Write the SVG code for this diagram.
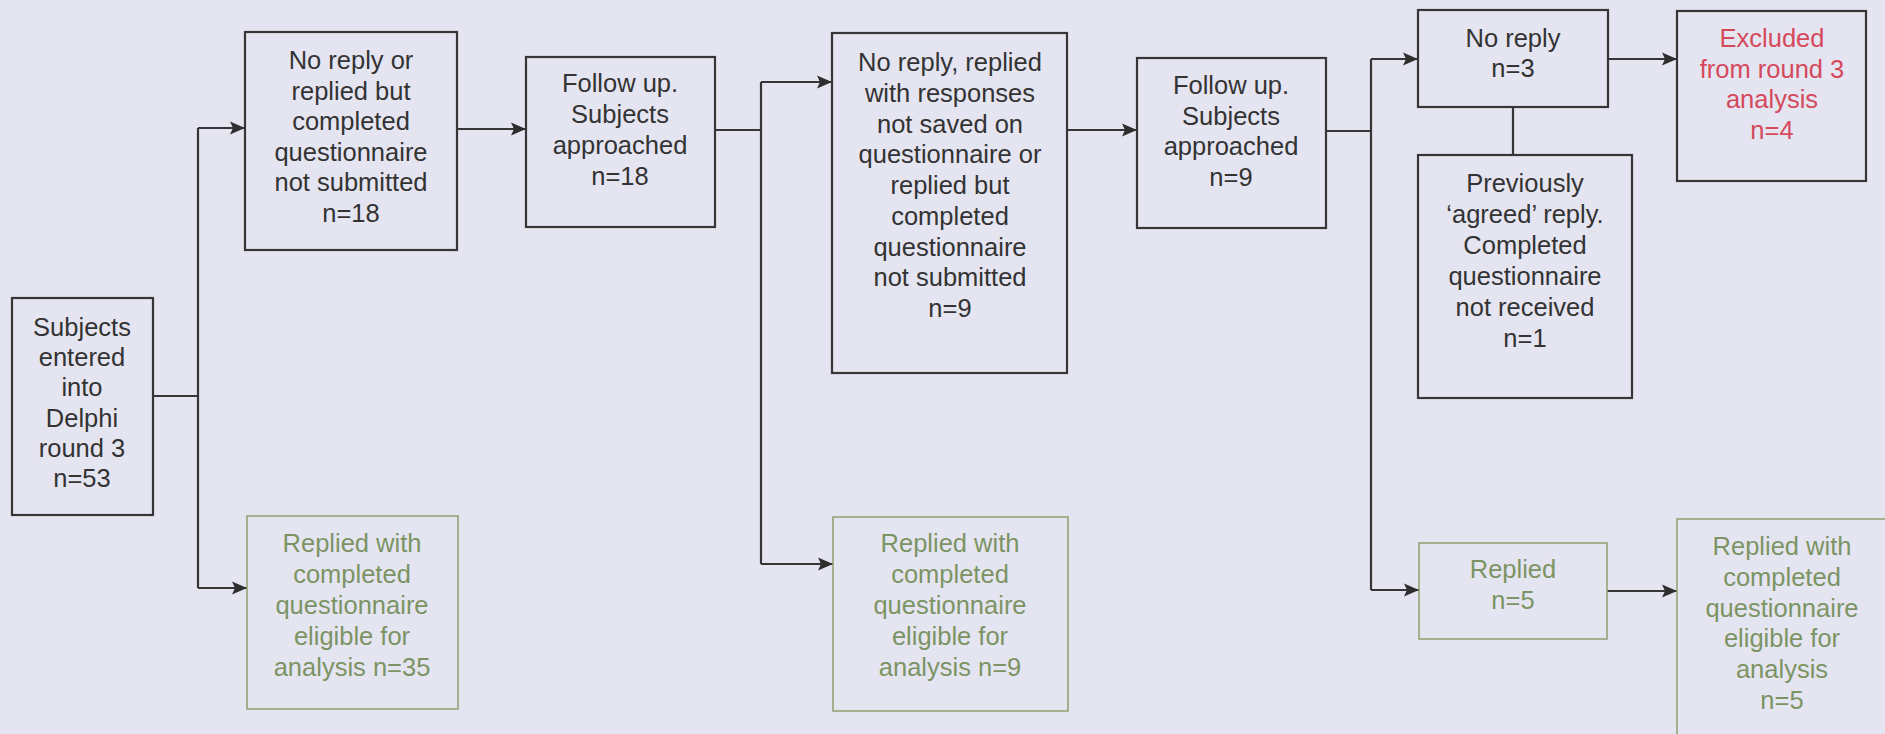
<svg xmlns="http://www.w3.org/2000/svg" width="1885" height="734" viewBox="0 0 1885 734">
  <style>
    .box { fill: none; stroke: #363636; stroke-width: 2.2; }
    .gbox { fill: none; stroke: #8e9e6e; stroke-width: 1.5; }
    .t { font-family: "Liberation Sans", Arial, sans-serif; font-size: 25.5px; text-anchor: middle; fill: #333333; }
    .g { fill: #7c9464; }
    .r { fill: #d5495c; }
    .wire { fill: none; stroke: #363636; stroke-width: 2.2; }
    .arrow { fill: none; stroke: #363636; stroke-width: 2.2; marker-end: url(#head); }
  </style>
  <defs>
    <marker id="head" markerUnits="userSpaceOnUse" markerWidth="16" markerHeight="14" refX="15" refY="7" orient="auto">
      <path d="M0,0.5 L15,7 L0,13.5 L3,7 z" fill="#2e2e2e"/>
    </marker>
  </defs>

  <rect x="0" y="0" width="1885" height="734" fill="#e5e5f1"/>

  <!-- connectors -->
  <g id="connectors">
    <path class="wire" d="M153,396 H198 M198,128 V588"/>
    <path class="arrow" d="M198,128 H245"/>
    <path class="arrow" d="M198,588 H247"/>
    <path class="arrow" d="M457,129 H526"/>
    <path class="wire" d="M715,130 H761 M761,82 V564"/>
    <path class="arrow" d="M761,82 H832"/>
    <path class="arrow" d="M761,564 H833"/>
    <path class="arrow" d="M1067,130 H1137"/>
    <path class="wire" d="M1326,131 H1371 M1371,59 V590"/>
    <path class="arrow" d="M1371,59 H1418"/>
    <path class="arrow" d="M1371,590 H1419"/>
    <path class="arrow" d="M1608,59 H1677"/>
    <path class="wire" d="M1513,107 V155"/>
    <path class="arrow" d="M1607,591 H1677"/>
  </g>

  <g id="entered">
    <rect class="box" x="12" y="298" width="141" height="217"/>
    <text class="t" x="82" y="336">Subjects<tspan x="82" dy="30.2">entered</tspan><tspan x="82" dy="30.2">into</tspan><tspan x="82" dy="30.2">Delphi</tspan><tspan x="82" dy="30.2">round 3</tspan><tspan x="82" dy="30.2">n=53</tspan></text>
  </g>

  <g id="noreply1">
    <rect class="box" x="245" y="32" width="212" height="218"/>
    <text class="t" x="351" y="69">No reply or<tspan x="351" dy="30.6">replied but</tspan><tspan x="351" dy="30.6">completed</tspan><tspan x="351" dy="30.6">questionnaire</tspan><tspan x="351" dy="30.6">not submitted</tspan><tspan x="351" dy="30.6">n=18</tspan></text>
  </g>

  <g id="replied1">
    <rect class="gbox" x="247" y="516" width="211" height="193"/>
    <text class="t g" x="352" y="552">Replied with<tspan x="352" dy="31">completed</tspan><tspan x="352" dy="31">questionnaire</tspan><tspan x="352" dy="31">eligible for</tspan><tspan x="352" dy="31">analysis n=35</tspan></text>
  </g>

  <g id="followup1">
    <rect class="box" x="526" y="57" width="189" height="170"/>
    <text class="t" x="620" y="92">Follow up.<tspan x="620" dy="31">Subjects</tspan><tspan x="620" dy="31">approached</tspan><tspan x="620" dy="31">n=18</tspan></text>
  </g>

  <g id="noreply2">
    <rect class="box" x="832" y="33" width="235" height="340"/>
    <text class="t" x="950" y="71">No reply, replied<tspan x="950" dy="30.75">with responses</tspan><tspan x="950" dy="30.75">not saved on</tspan><tspan x="950" dy="30.75">questionnaire or</tspan><tspan x="950" dy="30.75">replied but</tspan><tspan x="950" dy="30.75">completed</tspan><tspan x="950" dy="30.75">questionnaire</tspan><tspan x="950" dy="30.75">not submitted</tspan><tspan x="950" dy="30.75">n=9</tspan></text>
  </g>

  <g id="replied2">
    <rect class="gbox" x="833" y="517" width="235" height="194"/>
    <text class="t g" x="950" y="552">Replied with<tspan x="950" dy="31">completed</tspan><tspan x="950" dy="31">questionnaire</tspan><tspan x="950" dy="31">eligible for</tspan><tspan x="950" dy="31">analysis n=9</tspan></text>
  </g>

  <g id="followup2">
    <rect class="box" x="1137" y="58" width="189" height="170"/>
    <text class="t" x="1231" y="94">Follow up.<tspan x="1231" dy="30.7">Subjects</tspan><tspan x="1231" dy="30.7">approached</tspan><tspan x="1231" dy="30.7">n=9</tspan></text>
  </g>

  <g id="noreply3">
    <rect class="box" x="1418" y="10" width="190" height="97"/>
    <text class="t" x="1513" y="47">No reply<tspan x="1513" dy="30">n=3</tspan></text>
  </g>

  <g id="agreed">
    <rect class="box" x="1418" y="155" width="214" height="243"/>
    <text class="t" x="1525" y="192">Previously<tspan x="1525" dy="31">‘agreed’ reply.</tspan><tspan x="1525" dy="31">Completed</tspan><tspan x="1525" dy="31">questionnaire</tspan><tspan x="1525" dy="31">not received</tspan><tspan x="1525" dy="31">n=1</tspan></text>
  </g>

  <g id="excluded">
    <rect class="box" x="1677" y="11" width="189" height="170" stroke-width="2.6"/>
    <text class="t r" x="1772" y="47">Excluded<tspan x="1772" dy="30.7">from round 3</tspan><tspan x="1772" dy="30.7">analysis</tspan><tspan x="1772" dy="30.7">n=4</tspan></text>
  </g>

  <g id="replied3">
    <rect class="gbox" x="1419" y="543" width="188" height="96"/>
    <text class="t g" x="1513" y="578">Replied<tspan x="1513" dy="31">n=5</tspan></text>
  </g>

  <g id="replied4">
    <rect class="gbox" x="1677" y="519" width="212" height="230"/>
    <text class="t g" x="1782" y="555">Replied with<tspan x="1782" dy="30.8">completed</tspan><tspan x="1782" dy="30.8">questionnaire</tspan><tspan x="1782" dy="30.8">eligible for</tspan><tspan x="1782" dy="30.8">analysis</tspan><tspan x="1782" dy="30.8">n=5</tspan></text>
  </g>
</svg>
